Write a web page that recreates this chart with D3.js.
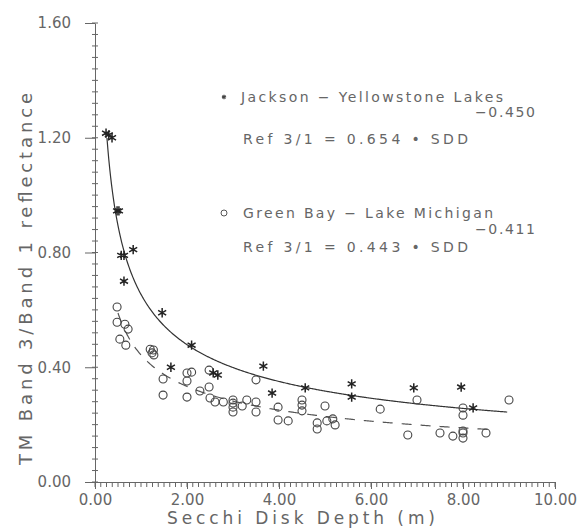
<!DOCTYPE html>
<html>
<head>
<meta charset="utf-8">
<script src="https://cdn.jsdelivr.net/npm/d3@7"></script>
<style>
  body { margin: 0; background: #fff; }
  text { font-family: "DejaVu Sans", sans-serif; fill: #666; }
  .axis path, .axis line { stroke: #666; stroke-width: 1; }
</style>
</head>
<body>
<script>
// Jackson - Yellowstone Lakes (asterisks): [Secchi depth m, band ratio]
var jackson = [
  [0.24, 1.216], [0.30, 1.21], [0.37, 1.20], [0.48, 0.945], [0.52, 0.945],
  [0.57, 0.79], [0.63, 0.79], [0.83, 0.81], [0.63, 0.70], [1.46, 0.59],
  [1.65, 0.40], [2.10, 0.477], [2.57, 0.38], [2.67, 0.373], [3.66, 0.404],
  [3.85, 0.31], [4.57, 0.328], [5.58, 0.342], [5.58, 0.296], [6.93, 0.328],
  [7.96, 0.331], [8.22, 0.258]
];

// Green Bay - Lake Michigan (circles)
var greenBay = [
  [0.48, 0.61], [0.48, 0.557], [0.65, 0.55], [0.72, 0.533], [0.54, 0.498], [0.67, 0.477],
  [1.20, 0.463], [1.27, 0.46], [1.24, 0.45], [1.28, 0.443],
  [1.48, 0.359], [1.48, 0.303],
  [2.00, 0.38], [2.10, 0.383], [2.00, 0.352], [2.00, 0.296], [2.28, 0.317],
  [2.48, 0.39], [2.48, 0.331], [2.50, 0.293], [2.61, 0.279], [2.79, 0.279],
  [3.00, 0.286], [3.00, 0.275], [3.00, 0.261], [3.00, 0.244], [3.20, 0.265], [3.30, 0.286],
  [3.50, 0.356], [3.50, 0.279], [3.50, 0.244],
  [3.98, 0.261], [3.98, 0.216], [4.20, 0.213],
  [4.50, 0.286], [4.50, 0.268], [4.50, 0.248],
  [4.83, 0.206], [4.83, 0.185], [5.00, 0.265], [5.04, 0.213], [5.17, 0.22], [5.22, 0.199],
  [6.20, 0.254], [7.00, 0.286], [6.80, 0.164], [7.50, 0.171], [7.78, 0.16],
  [8.00, 0.258], [8.00, 0.233], [8.00, 0.178], [8.00, 0.171], [8.00, 0.153],
  [8.50, 0.171], [9.00, 0.286]
];

// fitted power curves  Ref 3/1 = a * SDD^b
var jacksonFit = {a: 0.654, b: -0.450, from: 0.26, to: 8.96};
var greenFit = {a: 0.443, b: -0.411, from: 0.5, to: 8.7};

var xTicks = [0, 2, 4, 6, 8, 10],
    yTicks = [0, 0.4, 0.8, 1.2, 1.6];

var width = 577, height = 531;

var x = d3.scaleLinear().domain([0, 10]).range([95, 555]),
    y = d3.scaleLinear().domain([0, 1.6]).range([482, 23]);

var svg = d3.select("body").append("svg")
    .attr("width", width)
    .attr("height", height);

// axes
var fmt = d3.format(".2f");

svg.append("g")
    .attr("class", "axis")
    .attr("transform", "translate(0," + y(0) + ")")
    .call(d3.axisBottom(x).tickValues(xTicks).tickFormat(fmt)
      .tickSizeInner(7).tickSizeOuter(0).tickPadding(5))
    .call(function(g) { g.selectAll("text").style("font-size", "15px").style("fill", "#666"); });

svg.append("g")
    .attr("class", "axis")
    .attr("transform", "translate(" + x(0) + ",0)")
    .call(d3.axisLeft(y).tickValues(yTicks).tickFormat(fmt)
      .tickSizeInner(10).tickSizeOuter(0).tickPadding(14))
    .call(function(g) { g.selectAll("text").style("font-size", "15px").style("fill", "#666"); });

// minor ticks
svg.append("g").selectAll("line")
    .data(d3.range(0, 10.001, 0.125))
  .enter().append("line")
    .attr("x1", function(d) { return x(d); })
    .attr("x2", function(d) { return x(d); })
    .attr("y1", y(0))
    .attr("y2", y(0) + 5)
    .attr("stroke", "#666");

svg.append("g").selectAll("line")
    .data(d3.range(0, 1.6001, 0.04))
  .enter().append("line")
    .attr("x1", x(0) - 3)
    .attr("x2", x(0) + 3)
    .attr("y1", function(d) { return y(d); })
    .attr("y2", function(d) { return y(d); })
    .attr("stroke", "#666");

// axis titles
svg.append("text")
    .attr("x", 167)
    .attr("y", 524)
    .attr("textLength", 268)
    .attr("lengthAdjust", "spacing")
    .style("font-size", "17px")
    .text("Secchi  Disk  Depth  (m)");

svg.append("text")
    .attr("transform", "translate(32,465) rotate(-90)")
    .attr("textLength", 372)
    .attr("lengthAdjust", "spacing")
    .style("font-size", "18px")
    .text("TM  Band  3/Band  1  reflectance");

// fitted curves
function curve(f) {
  var pts = [];
  for (var v = f.from; v <= f.to; v += 0.02) pts.push([v, f.a * Math.pow(v, f.b)]);
  return pts;
}
var line = d3.line()
    .x(function(d) { return x(d[0]); })
    .y(function(d) { return y(d[1]); });

svg.append("path")
    .attr("d", line(curve(jacksonFit)))
    .attr("fill", "none")
    .attr("stroke", "#333")
    .attr("stroke-width", 1.2);

svg.append("path")
    .attr("d", line(curve(greenFit)))
    .attr("fill", "none")
    .attr("stroke", "#555")
    .attr("stroke-width", 1.2)
    .attr("stroke-dasharray", "10,9");

// points
var star = d3.symbol().type(d3.symbolAsterisk).size(60);

svg.selectAll(".gb")
    .data(greenBay)
  .enter().append("circle")
    .attr("class", "gb")
    .attr("cx", function(d) { return x(d[0]); })
    .attr("cy", function(d) { return y(d[1]); })
    .attr("r", 4)
    .attr("fill", "none")
    .attr("stroke", "#444")
    .attr("stroke-width", 1.1);

svg.selectAll(".jy")
    .data(jackson)
  .enter().append("path")
    .attr("class", "jy")
    .attr("d", star)
    .attr("transform", function(d) { return "translate(" + x(d[0]) + "," + y(d[1]) + ")"; })
    .attr("fill", "none")
    .attr("stroke", "#222")
    .attr("stroke-width", 1.5);

// legend / equations
svg.append("path")
    .attr("d", d3.symbol().type(d3.symbolAsterisk).size(14)())
    .attr("transform", "translate(224,97)")
    .attr("stroke", "#444")
    .attr("stroke-width", 1.2);

svg.append("circle")
    .attr("cx", 224).attr("cy", 213).attr("r", 3)
    .attr("fill", "none").attr("stroke", "#555");

var labels = [
  {t: "Jackson  −  Yellowstone  Lakes", x: 241, y: 102, w: 262},
  {t: "−0.450", x: 475, y: 117, w: 60},
  {t: "Ref  3/1  =  0.654  •  SDD", x: 243, y: 144, w: 225},
  {t: "Green  Bay  −  Lake  Michigan", x: 243, y: 218, w: 250},
  {t: "−0.411", x: 475, y: 234, w: 60},
  {t: "Ref  3/1  =  0.443  •  SDD", x: 243, y: 252, w: 225}
];

svg.selectAll(".lab")
    .data(labels)
  .enter().append("text")
    .attr("class", "lab")
    .attr("x", function(d) { return d.x; })
    .attr("y", function(d) { return d.y; })
    .attr("textLength", function(d) { return d.w; })
    .attr("lengthAdjust", "spacing")
    .style("font-size", "14px")
    .text(function(d) { return d.t; });
</script>
</body>
</html>
